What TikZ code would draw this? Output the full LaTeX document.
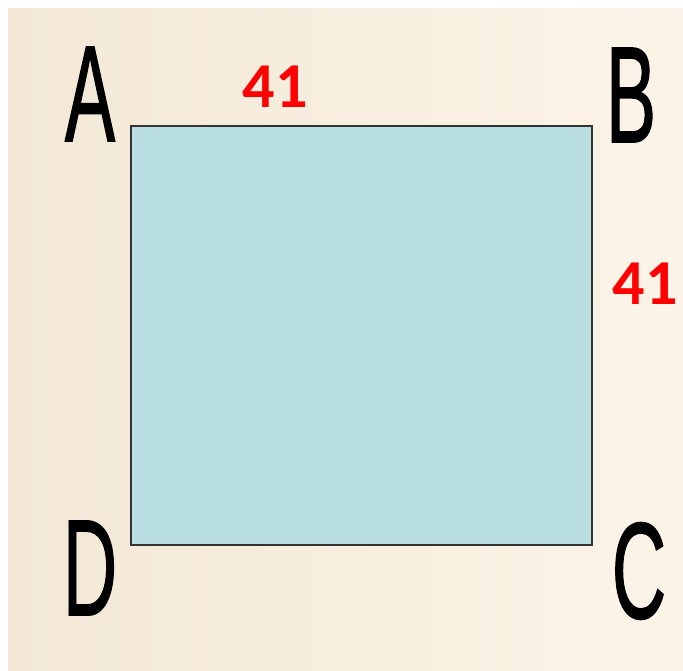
\documentclass[tikz,border=0pt]{standalone}
\usepackage{fontspec}
\setmainfont{Liberation Sans}
\newfontfamily\lblfont[FakeBold=1.2]{Liberation Sans}
\newfontfamily\numfont{Carlito}
\definecolor{bgL}{HTML}{F3E8D6}
\definecolor{bgR}{HTML}{FCF4E8}
\definecolor{sqfill}{HTML}{BADFE2}
\definecolor{sqline}{HTML}{333333}
\definecolor{numred}{HTML}{FF0000}
\begin{document}
\begin{tikzpicture}[x=1pt,y=-1pt,
  vlabel/.style={inner sep=0pt,font=\lblfont\fontsize{137}{137}\selectfont,xscale=0.55},
  numlabel/.style={inner sep=0pt,text=numred,font=\numfont\fontsize{64}{64}\selectfont\bfseries}]
\useasboundingbox (0,0) rectangle (683,670);
\fill[white] (0,0) rectangle (683,670);
\shade[left color=bgL,right color=bgR] (8,8) rectangle (683,670);
\node[draw=sqline,line width=1.5pt,fill=sqfill,minimum width=461pt,minimum height=419pt,inner sep=0pt] (sq) at (361.5,335.5) {};
\node[vlabel] (A) at (90,94) {A};
\node[vlabel] (B) at (631,95) {B};
\node[vlabel] (D) at (90,568) {D};
\node[vlabel] (C) at (639,571) {C};
\node[numlabel] (n1) at (275,87) {41};
\node[numlabel] (n2) at (645,284) {41};
\end{tikzpicture}
\end{document}
